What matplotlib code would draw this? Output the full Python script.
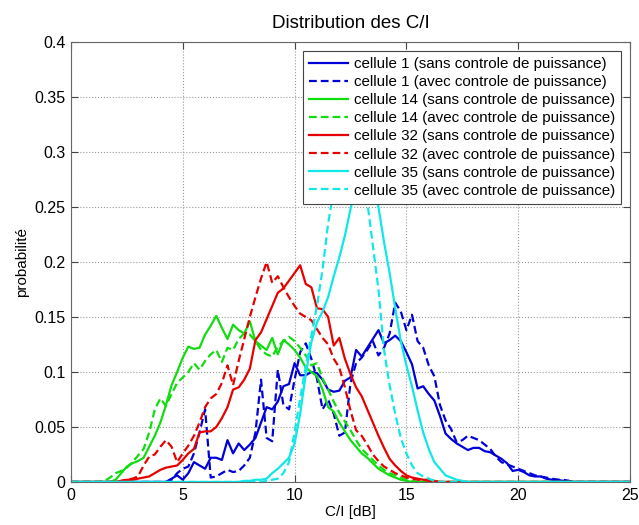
"""Distribution des C/I par cellule, avec et sans controle de puissance"""

import matplotlib
matplotlib.use("Agg")
import matplotlib.pyplot as plt
import numpy as np

plt.rcParams["font.family"] = ["Liberation Sans", "DejaVu Sans"]

# pas d'echantillonnage en dB et plage de l'axe
step = 0.25
x_max = 25.0

# chaque courbe: premier point (dB) puis valeurs tous les 0.25 dB
c1_sans_start = 4.25
c1_sans = [0, 0.003, 0.006, 0.002, 0.008, 0.018, 0.015, 0.012, 0.022, 0.022,
           0.02, 0.038, 0.026, 0.035, 0.029, 0.034, 0.04, 0.054, 0.068, 0.066,
           0.073, 0.087, 0.089, 0.108, 0.097, 0.097, 0.1, 0.099, 0.093, 0.084,
           0.082, 0.083, 0.092, 0.095, 0.12, 0.114, 0.122, 0.13, 0.138, 0.126,
           0.129, 0.133, 0.128, 0.118, 0.107, 0.085, 0.087, 0.08, 0.074, 0.06,
           0.044, 0.039, 0.035, 0.032, 0.029, 0.031, 0.031, 0.028, 0.027, 0.024,
           0.021, 0.017, 0.01, 0.011, 0.009, 0.006, 0.005, 0.005, 0.003, 0.002,
           0.002, 0.001, 0.001, 0]

c1_avec_start = 4.25
c1_avec = [0, 0.002, 0.008, 0.012, 0.014, 0.026, 0.045, 0.066, 0.004, 0.005,
           0.008, 0.011, 0.009, 0.01, 0.015, 0.022, 0.045, 0.093, 0.04, 0.037,
           0.102, 0.07, 0.066, 0.093, 0.118, 0.126, 0.112, 0.094, 0.066, 0.075,
           0.062, 0.042, 0.045, 0.09, 0.108, 0.113, 0.12, 0.128, 0.115, 0.122,
           0.135, 0.163, 0.155, 0.138, 0.152, 0.128, 0.122, 0.106, 0.096, 0.07,
           0.056, 0.048, 0.036, 0.038, 0.042, 0.04, 0.038, 0.034, 0.03, 0.023,
           0.018, 0.016, 0.014, 0.012, 0.01, 0.008, 0.006, 0.005, 0.004, 0.003,
           0.002, 0.002, 0.001, 0]

c14_sans_start = 1.75
c14_sans = [0, 0.002, 0.008, 0.014, 0.017, 0.019, 0.022, 0.032, 0.042, 0.054,
            0.07, 0.088, 0.1, 0.113, 0.123, 0.121, 0.122, 0.134, 0.142, 0.151,
            0.14, 0.13, 0.143, 0.138, 0.135, 0.146, 0.128, 0.124, 0.12, 0.131,
            0.116, 0.129, 0.125, 0.12, 0.113, 0.104, 0.1, 0.096, 0.084, 0.068,
            0.064, 0.054, 0.046, 0.038, 0.032, 0.026, 0.022, 0.017, 0.012, 0.009,
            0.006, 0.004, 0.002, 0.001, 0]

c14_avec_start = 1.25
c14_avec = [0, 0.001, 0.004, 0.008, 0.01, 0.013, 0.018, 0.024, 0.03, 0.045,
            0.066, 0.076, 0.069, 0.08, 0.09, 0.095, 0.1, 0.108, 0.102, 0.11,
            0.116, 0.12, 0.109, 0.122, 0.12, 0.13, 0.135, 0.134, 0.128, 0.12,
            0.116, 0.114, 0.123, 0.128, 0.132, 0.128, 0.122, 0.115, 0.106, 0.108,
            0.094, 0.084, 0.073, 0.063, 0.055, 0.047, 0.038, 0.03, 0.025, 0.02,
            0.015, 0.011, 0.008, 0.006, 0.004, 0.002, 0.001, 0]

c32_sans_start = 2.0
c32_sans = [0, 0.001, 0.002, 0.002, 0.003, 0.004, 0.005, 0.008, 0.011, 0.013,
            0.014, 0.015, 0.02, 0.026, 0.03, 0.045, 0.046, 0.046, 0.05, 0.058,
            0.068, 0.084, 0.086, 0.093, 0.103, 0.129, 0.136, 0.148, 0.16, 0.172,
            0.176, 0.183, 0.19, 0.197, 0.18, 0.177, 0.158, 0.157, 0.15, 0.124,
            0.131, 0.112, 0.098, 0.086, 0.078, 0.066, 0.054, 0.042, 0.031, 0.021,
            0.015, 0.01, 0.006, 0.004, 0.003, 0.002, 0.002, 0.001, 0]

c32_avec_start = 2.0
c32_avec = [0, 0.001, 0.002, 0.003, 0.005, 0.015, 0.023, 0.025, 0.032, 0.038,
            0.032, 0.018, 0.026, 0.033, 0.042, 0.054, 0.068, 0.076, 0.08, 0.09,
            0.106, 0.088, 0.11, 0.13, 0.15, 0.168, 0.185, 0.2, 0.181, 0.187,
            0.177, 0.168, 0.16, 0.153, 0.15, 0.147, 0.139, 0.131, 0.125, 0.112,
            0.104, 0.086, 0.065, 0.047, 0.042, 0.034, 0.025, 0.019, 0.014, 0.011,
            0.008, 0.006, 0.004, 0.003, 0.002, 0.002, 0.001, 0]

c35_sans_start = 7.5
c35_sans = [0, 0.001, 0.001, 0.002, 0.002, 0.003, 0.008, 0.012, 0.017, 0.022,
            0.035, 0.062, 0.098, 0.127, 0.145, 0.155, 0.168, 0.187, 0.204, 0.224,
            0.248, 0.272, 0.29, 0.297, 0.285, 0.25, 0.218, 0.19, 0.158, 0.128,
            0.106, 0.087, 0.065, 0.045, 0.03, 0.018, 0.012, 0.006, 0.004, 0.002,
            0.001, 0]

c35_avec_start = 8.5
c35_avec = [0, 0.001, 0.002, 0.003, 0.008, 0.018, 0.045, 0.076, 0.105, 0.133,
            0.16, 0.193, 0.235, 0.265, 0.29, 0.31, 0.315, 0.305, 0.285, 0.255,
            0.215, 0.175, 0.12, 0.088, 0.062, 0.04, 0.026, 0.015, 0.008, 0.005,
            0.003, 0.001, 0]

labels = [
    "cellule 1 (sans controle de puissance)",
    "cellule 1 (avec controle de puissance)",
    "cellule 14 (sans controle de puissance)",
    "cellule 14 (avec controle de puissance)",
    "cellule 32 (sans controle de puissance)",
    "cellule 32 (avec controle de puissance)",
    "cellule 35 (sans controle de puissance)",
    "cellule 35 (avec controle de puissance)",
]

series = [
    (c1_sans_start, c1_sans), (c1_avec_start, c1_avec),
    (c14_sans_start, c14_sans), (c14_avec_start, c14_avec),
    (c32_sans_start, c32_sans), (c32_avec_start, c32_avec),
    (c35_sans_start, c35_sans), (c35_avec_start, c35_avec),
]

colors = ["#0000d8", "#0000d8", "#10dd10", "#10dd10",
          "#e80000", "#e80000", "#10e8e8", "#10e8e8"]
styles = ["-", "--", "-", "--", "-", "--", "-", "--"]

fig = plt.figure(figsize=(6.39, 5.25), dpi=100)
ax = fig.add_axes([0.111, 0.082, 0.875, 0.838])

# full grid: curves are zero outside the listed range
x_full = np.arange(0, x_max + step / 2, step)
for (start, vals), c, ls, lab in zip(series, colors, styles, labels):
    y_full = np.zeros_like(x_full)
    i0 = int(round(start / step))
    y_full[i0:i0 + len(vals)] = vals
    if ls == "--":
        ax.plot(x_full, y_full, color=c, ls=ls, lw=1.6, dashes=(3.5, 1.8), label=lab)
    else:
        ax.plot(x_full, y_full, color=c, ls=ls, lw=1.6, label=lab)

ax.set_xlim(0, 25)
ax.set_ylim(0, 0.4)
ax.set_xticks([0, 5, 10, 15, 20, 25])
ax.set_yticks([0, 0.05, 0.1, 0.15, 0.2, 0.25, 0.3, 0.35, 0.4])
ax.set_yticklabels(["0", "0.05", "0.1", "0.15", "0.2", "0.25", "0.3", "0.35", "0.4"])
ax.tick_params(direction="in", length=5, labelsize=11.5, top=True, right=True,
               color="#444444", pad=4)
ax.grid(True, ls=":", color="#999999", lw=0.8)
for sp in ax.spines.values():
    sp.set_color("#666666")

ax.set_title("Distribution des C/I", fontsize=13.5, pad=10)
ax.set_xlabel("C/I [dB]", fontsize=11, labelpad=2)
ax.set_ylabel("probabilit\u00e9", fontsize=11, labelpad=4)

leg = ax.legend(loc="upper right", fontsize=10.9, handlelength=2.6,
                handletextpad=0.35, labelspacing=0.27, borderpad=0.4,
                borderaxespad=0.6, fancybox=False, framealpha=1)
leg.get_frame().set_edgecolor("#444444")
leg.get_frame().set_linewidth(0.8)

plt.savefig("out.png", dpi=100)
